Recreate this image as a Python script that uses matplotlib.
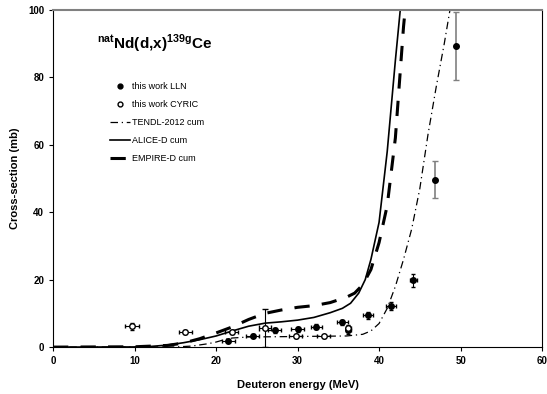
import matplotlib
matplotlib.use("Agg")
import matplotlib.pyplot as plt
from matplotlib.lines import Line2D

plt.rcParams['font.family'] = ['Liberation Sans', 'DejaVu Sans']
plt.rcParams['mathtext.fontset'] = 'custom'
plt.rcParams['mathtext.rm'] = 'Liberation Sans'
plt.rcParams['mathtext.bf'] = 'Liberation Sans:bold'

# measured data, this work LLN (filled)
lln_e = [21.5, 24.5, 27.2, 30.0, 32.3, 35.5, 36.2, 38.6, 41.5, 44.2]
lln_xs = [1.9, 3.4, 5.0, 5.3, 6.1, 7.3, 5.2, 9.4, 12.2, 19.8]
lln_de = [0.8, 0.8, 0.8, 0.8, 0.7, 0.7, 0.3, 0.6, 0.6, 0.4]
lln_dxs = [0.4, 0.5, 0.7, 0.7, 0.7, 0.8, 1.2, 1.0, 1.3, 2.0]

# high-energy LLN points with large (gray) errors
lln_hi_e = [46.9, 49.4]
lln_hi_xs = [49.6, 89.3]
lln_hi_dxs = [5.5, 10.1]

# this work CYRIC (open)
cyr_e = [9.7, 16.2, 21.9, 29.8, 33.2, 36.2]
cyr_xs = [6.2, 4.5, 4.5, 3.3, 3.2, 5.6]
cyr_de = [0.9, 0.8, 0.8, 0.8, 0.8, 0.3]
cyr_dxs = [1.0, 0.6, 0.6, 0.5, 0.5, 1.0]

cyr26_e = [26.0]
cyr26_xs = [5.7]
cyr26_dxs = [5.7]

# model curves
tendl_e = [0, 15, 17, 19, 20, 21, 22, 24, 28, 32, 36, 38, 39, 40, 41, 42, 43, 44, 45, 46, 47, 48, 48.7]
tendl_xs = [0, 0.05, 0.3, 1.0, 1.5, 2.2, 2.7, 3.0, 3.1, 3.2, 3.3, 3.8, 4.8, 7.0, 11.5, 18, 26, 35, 47, 63, 77, 90, 100]

alice_e = [0, 10, 12, 14, 16, 18, 20, 22, 24, 26, 28, 30, 32, 34, 35.5, 36.5, 37.5, 38.3, 39, 40, 41, 42, 42.6]
alice_xs = [0, 0.05, 0.2, 0.6, 1.3, 2.2, 3.3, 4.8, 6.2, 7.1, 7.5, 8.0, 8.8, 10.2, 11.5, 13, 16, 20, 26, 37, 58, 85, 100]

empire_e = [0, 10, 14, 16, 18, 20, 22, 24, 26, 28, 30, 32, 34, 36, 37, 38, 39, 40, 41, 42, 43, 43.2]
empire_xs = [0, 0.1, 0.5, 1.2, 2.5, 4.2, 6.0, 8.2, 10.0, 11.0, 11.8, 12.3, 13.2, 14.8, 16, 18.5, 23, 31, 42, 62, 95, 100]

fig = plt.figure(figsize=(5.47, 3.94), dpi=100)
ax = fig.add_axes([0.097, 0.119, 0.894, 0.856])

ax.errorbar(lln_e, lln_xs, xerr=lln_de, yerr=lln_dxs, fmt='o', color='black',
            ms=4, elinewidth=0.8, capsize=1.5)
ax.errorbar(lln_hi_e, lln_hi_xs, yerr=lln_hi_dxs, fmt='o', color='black', ecolor='gray',
            ms=4, elinewidth=1.2, capsize=2)
ax.errorbar(cyr_e, cyr_xs, xerr=cyr_de, yerr=cyr_dxs, fmt='o', color='black', mfc='white',
            ms=4, elinewidth=0.8, capsize=1.5)
ax.errorbar(cyr26_e, cyr26_xs, xerr=0.7, yerr=cyr26_dxs, fmt='o', color='black', mfc='white',
            ms=4, elinewidth=0.8, capsize=2)

ax.plot(tendl_e, tendl_xs, color='black', lw=0.9, dashes=[6, 3, 1, 3])
ax.plot(alice_e, alice_xs, color='black', lw=1.2)
ax.plot(empire_e, empire_xs, color='black', lw=2.2, dashes=[5, 4])

handles = [
    Line2D([], [], ls='none', marker='o', color='black', ms=3.5),
    Line2D([], [], ls='none', marker='o', color='black', mfc='white', ms=3.5),
    Line2D([], [], color='black', lw=0.9, dashes=[6, 3, 1, 3]),
    Line2D([], [], color='black', lw=1.2),
    Line2D([], [], color='black', lw=2.2, dashes=[5, 4]),
]
labels = ['this work LLN', 'this work CYRIC', 'TENDL-2012 cum', 'ALICE-D cum', 'EMPIRE-D cum']

ax.set_xlim(0, 60)
ax.set_ylim(0, 100)
ax.set_xticks(range(0, 61, 10))
ax.set_yticks(range(0, 101, 20))
ax.tick_params(labelsize=7, length=3, width=0.8)
for t in ax.get_xticklabels() + ax.get_yticklabels():
    t.set_fontweight('bold')
ax.spines['top'].set_color('gray')
ax.spines['top'].set_linewidth(1.5)

ax.set_xlabel('Deuteron energy (MeV)', fontsize=8, fontweight='bold', labelpad=10)
ax.set_ylabel('Cross-section (mb)', fontsize=8, fontweight='bold', labelpad=6)

ax.text(0.09, 0.9, r'$^{\mathbf{nat}}$Nd(d,x)$^{\mathbf{139g}}$Ce', transform=ax.transAxes,
        fontsize=11, fontweight='bold', va='center')

ax.legend(handles, labels, loc='upper left', bbox_to_anchor=(0.1, 0.81), frameon=False,
          fontsize=6.5, handlelength=2.2, handletextpad=0.2, labelspacing=1.0)

fig.savefig('out.png', dpi=100)
